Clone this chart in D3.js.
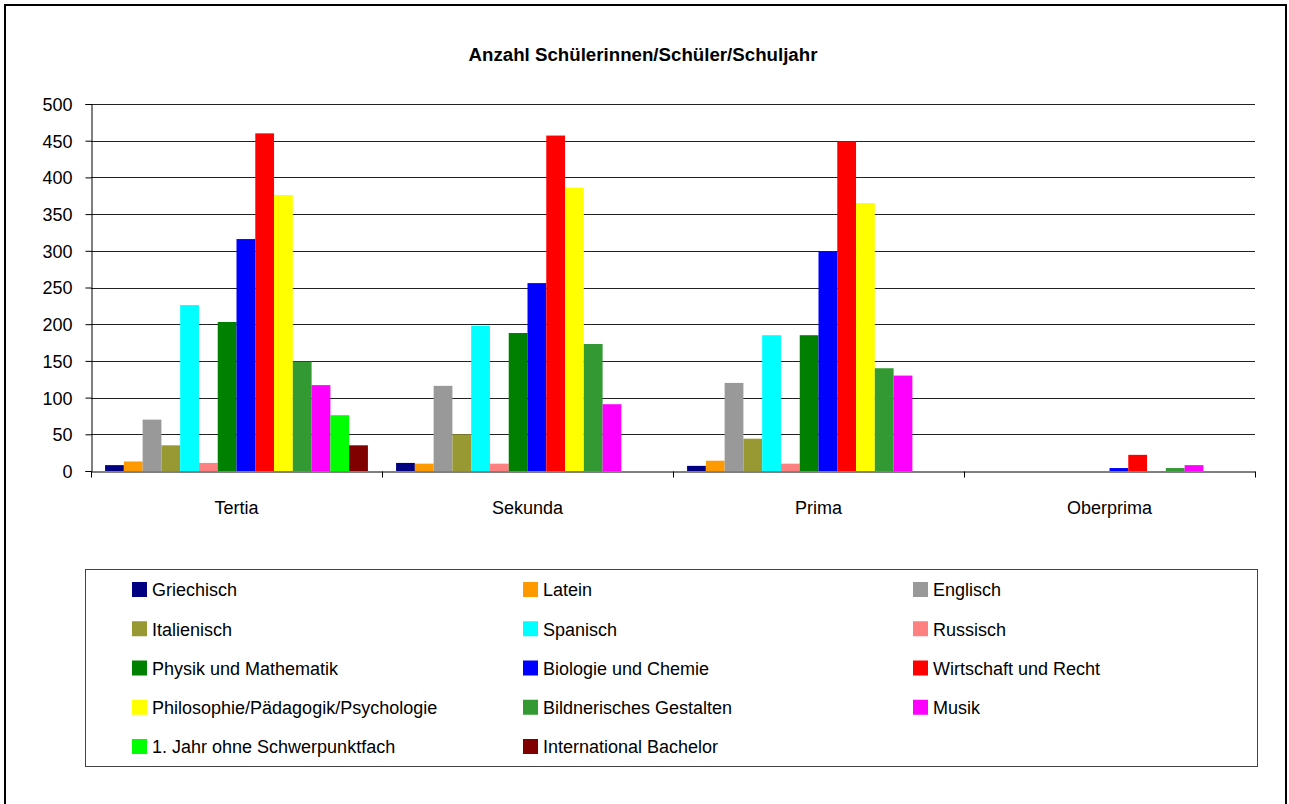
<html>
<head>
<meta charset="utf-8">
<style>
  body { margin: 0; background: #fff; }
  svg text { font-family: "Liberation Sans", Arial, sans-serif; fill: #000; }
</style>
</head>
<body>
<svg width="1289" height="804"></svg>
<script src="https://unpkg.com/d3@7/dist/d3.min.js"></script>
<script>
const categories = ['Tertia', 'Sekunda', 'Prima', 'Oberprima'];

const series = [
  'Griechisch', 'Latein', 'Englisch', 'Italienisch', 'Spanisch', 'Russisch',
  'Physik und Mathematik', 'Biologie und Chemie', 'Wirtschaft und Recht',
  'Philosophie/Pädagogik/Psychologie', 'Bildnerisches Gestalten', 'Musik',
  '1. Jahr ohne Schwerpunktfach', 'International Bachelor'
];

const colors = [
  '#000080', '#FF9900', '#999999', '#999933', '#00FFFF', '#FF8080',
  '#008000', '#0000FF', '#FF0000', '#FFFF00', '#339933', '#FF00FF',
  '#00FF00', '#800000'
];

// one array per class year, in series order
const tertia    = [8, 13, 70, 35, 226, 11, 203, 316, 460, 376, 149, 117, 76, 35];
const sekunda   = [11, 10, 116, 50, 198, 10, 188, 256, 457, 386, 173, 91, 0, 0];
const prima     = [7, 14, 120, 44, 185, 10, 185, 299, 449, 365, 140, 130, 0, 0];
const oberprima = [0, 0, 0, 0, 0, 0, 0, 4, 22, 0, 4, 8, 0, 0];

const yTicks = [0, 50, 100, 150, 200, 250, 300, 350, 400, 450, 500];

const values = [tertia, sekunda, prima, oberprima];

const svg = d3.select('svg');

// outer frame (bottom edge runs off the picture)
svg.append('rect')
  .attr('x', 5).attr('y', 5)
  .attr('width', 1281).attr('height', 820)
  .attr('fill', 'none').attr('stroke', '#000').attr('stroke-width', 2);

const plot = { left: 91, right: 1255, top: 104, bottom: 471 };

const x0 = d3.scaleBand()
  .domain(categories)
  .range([plot.left, plot.right]);

const x1 = d3.scaleBand()
  .domain(series)
  .range([0, x0.bandwidth()])
  .paddingOuter(0.75);

const y = d3.scaleLinear()
  .domain([0, 500])
  .range([plot.bottom, plot.top]);

const color = d3.scaleOrdinal().domain(series).range(colors);

// title
svg.append('text')
  .attr('x', 643).attr('y', 61)
  .attr('text-anchor', 'middle')
  .style('font-size', '18.7px')
  .style('font-weight', 'bold')
  .text('Anzahl Schülerinnen/Schüler/Schuljahr');

// gridlines
svg.append('g')
  .selectAll('line')
  .data(yTicks.filter(d => d > 0))
  .enter().append('line')
  .attr('x1', plot.left).attr('x2', plot.right)
  .attr('y1', d => Math.round(y(d)) + 0.5)
  .attr('y2', d => Math.round(y(d)) + 0.5)
  .attr('stroke', '#222').attr('stroke-width', 1);

// bars
const groups = svg.append('g')
  .selectAll('g')
  .data(categories)
  .enter().append('g')
  .attr('transform', d => `translate(${x0(d)},0)`);

groups.selectAll('rect')
  .data((c, i) => series.map((s, j) => ({ s, v: values[i][j] })))
  .enter().append('rect')
  .filter(d => d.v > 0)
  .attr('x', d => x1(d.s))
  .attr('width', x1.bandwidth())
  .attr('y', d => y(d.v))
  .attr('height', d => y(0) - y(d.v))
  .attr('fill', d => color(d.s));

// y axis
const yAxis = svg.append('g')
  .attr('transform', `translate(${plot.left + 0.5},0)`)
  .call(d3.axisLeft(y).tickValues(yTicks).tickSize(6).tickPadding(13));
yAxis.selectAll('text').style('font-size', '18px').attr('dy', '0.36em');
yAxis.selectAll('line, path').attr('stroke', '#000');

// x axis
const xAxis = svg.append('g')
  .attr('transform', `translate(0,${plot.bottom + 0.5})`)
  .call(d3.axisBottom(x0).tickSize(0).tickPadding(30).tickSizeOuter(0));
xAxis.select('path').attr('stroke', '#000');
xAxis.selectAll('text').style('font-size', '18px');
xAxis.selectAll('.sep')
  .data(categories.map(c => x0(c)).concat([plot.right]))
  .enter().append('line')
  .attr('class', 'sep')
  .attr('x1', d => Math.round(d) + 0.5).attr('x2', d => Math.round(d) + 0.5)
  .attr('y1', 0).attr('y2', 6)
  .attr('stroke', '#000');

// legend
svg.append('rect')
  .attr('x', 85.5).attr('y', 569.5)
  .attr('width', 1172).attr('height', 197)
  .attr('fill', 'none').attr('stroke', '#444').attr('stroke-width', 1);

const legendCols = [132, 523, 913];
const rowY = d3.scaleLinear().domain([0, 4]).range([590, 747]);

const legendItem = svg.append('g')
  .selectAll('g')
  .data(series)
  .enter().append('g')
  .attr('transform', (d, i) => `translate(${legendCols[i % 3]},${rowY(Math.floor(i / 3))})`);

legendItem.append('rect')
  .attr('x', 0).attr('y', -8)
  .attr('width', 15).attr('height', 15)
  .attr('fill', d => color(d));

legendItem.append('text')
  .attr('x', 20).attr('y', 0)
  .attr('dy', '0.35em')
  .style('font-size', '18px')
  .text(d => d);
</script>
</body>
</html>
